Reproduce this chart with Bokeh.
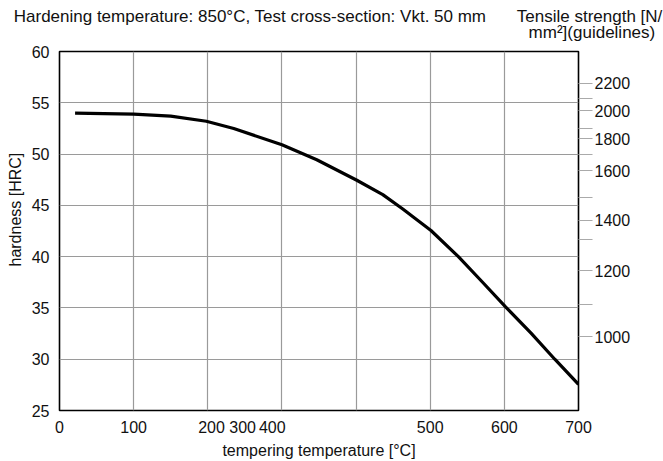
from bokeh.plotting import figure
from bokeh.models import (Range1d, LinearAxis, FixedTicker, Title,
                          CustomJSTickFormatter)
from bokeh.embed import file_html
from bokeh.resources import INLINE

# ---- data ----
# x positions along the (irregular) tempering temperature scale
temper_pos = [21, 60, 100, 150, 198, 235, 300, 347, 401, 436, 463, 501, 538, 570, 601, 636, 668, 700]
hardness = [54.0, 53.95, 53.9, 53.7, 53.2, 52.5, 50.9, 49.45, 47.45, 46.05, 44.65, 42.55, 40.0, 37.55, 35.15, 32.55, 30.0, 27.55]

x_tick_pos = [0, 100, 205, 247, 287, 500, 600, 700]
x_tick_labels = ["0", "100", "200", "300", "400", "500", "600", "700"]
x_grid = [100, 200, 300, 400, 500, 600]

y_ticks = [25, 30, 35, 40, 45, 50, 55, 60]
y_grid = [30, 35, 40, 45, 50, 55]

# tensile strength scale (guidelines) placed at hardness positions
tensile_labels = ["2200", "2000", "1800", "1600", "1400", "1200", "1000"]
tensile_hrc = [56.91, 54.21, 51.48, 48.39, 43.56, 38.61, 32.20]
tensile_minor_hrc = [55.46, 52.51, 49.93, 45.75, 41.70, 35.29]

title_text = "Hardening temperature: 850°C, Test cross-section: Vkt. 50 mm"
right_title_lines = ["Tensile strength [N/", "mm²](guidelines)"]
y_label = "hardness [HRC]"
x_label = "tempering temperature [°C]"

FONT = "Liberation Sans"
TXT = "#111111"
NB = "\u00a0"

p = figure(width=663, height=461, output_backend="svg", toolbar_location=None,
           x_range=Range1d(0, 700), y_range=Range1d(25, 60),
           min_border_left=54, min_border_right=85, min_border_top=51, min_border_bottom=48)
p.background_fill_color = "white"
p.border_fill_color = "white"
p.outline_line_color = "black"
p.outline_line_width = 1.6

p.line(temper_pos, hardness, line_color="black", line_width=3.2)

# bottom axis
xa = p.xaxis[0]
xa.ticker = FixedTicker(ticks=x_tick_pos)
xa.major_label_overrides = {t: l for t, l in zip(x_tick_pos, x_tick_labels)}
xa.major_tick_line_color = None
xa.minor_tick_line_color = None
xa.axis_line_color = None
xa.major_label_standoff = 4
xa.major_label_text_font = FONT
xa.major_label_text_font_size = "16px"
xa.major_label_text_color = TXT
xa.axis_label = x_label
xa.axis_label_standoff = 6
xa.axis_label_text_font = FONT
xa.axis_label_text_font_size = "16px"
xa.axis_label_text_font_style = "normal"
xa.axis_label_text_color = TXT

# left axis
ya = p.yaxis[0]
ya.ticker = FixedTicker(ticks=y_ticks)
ya.major_tick_line_color = None
ya.minor_tick_line_color = None
ya.axis_line_color = None
ya.major_label_standoff = 4
ya.major_label_text_font = FONT
ya.major_label_text_font_size = "16px"
ya.major_label_text_color = TXT

p.add_layout(Title(text=y_label, align="left", offset=144, standoff=9,
                   text_font=FONT, text_font_size="16px", text_font_style="normal",
                   text_color=TXT), "left")

# grids
p.xgrid.ticker = FixedTicker(ticks=x_grid)
p.ygrid.ticker = FixedTicker(ticks=y_grid)
for g in (p.xgrid[0], p.ygrid[0]):
    g.grid_line_color = "#9a9a9a"
    g.grid_line_width = 1.2

# right axis: tensile strength
ra = LinearAxis(ticker=FixedTicker(ticks=tensile_hrc, minor_ticks=tensile_minor_hrc),
                formatter=CustomJSTickFormatter(args=dict(labels=tensile_labels),
                                                code="return labels[index];"))
ra.axis_line_color = None
ra.major_tick_in = 0
ra.major_tick_out = 14
ra.minor_tick_in = 0
ra.minor_tick_out = 14
ra.major_tick_line_color = "#aaaaaa"
ra.minor_tick_line_color = "#aaaaaa"
ra.major_tick_line_width = 1.2
ra.minor_tick_line_width = 1.2
ra.major_label_standoff = 2
ra.major_label_text_font = FONT
ra.major_label_text_font_size = "16px"
ra.major_label_text_color = TXT
p.add_layout(ra, "right")

# header texts carried by a label-only axis above the frame
title_tick = 257
right_title_tick = 699
ta = LinearAxis(ticker=FixedTicker(ticks=[title_tick, right_title_tick]))
ta.major_label_overrides = {
    title_tick: title_text + "\n" + NB,
    right_title_tick: NB * 5 + right_title_lines[0] + "\n" + NB * 6 + right_title_lines[1],
}
ta.axis_line_color = None
ta.major_tick_line_color = None
ta.minor_tick_line_color = None
ta.major_tick_in = 0
ta.major_tick_out = 0
ta.major_label_standoff = 10
ta.major_label_text_font = FONT
ta.major_label_text_font_size = "17px"
ta.major_label_text_line_height = 0.8
ta.major_label_text_color = TXT
p.add_layout(ta, "above")

open("out.html", "w").write(file_html(p, INLINE))
